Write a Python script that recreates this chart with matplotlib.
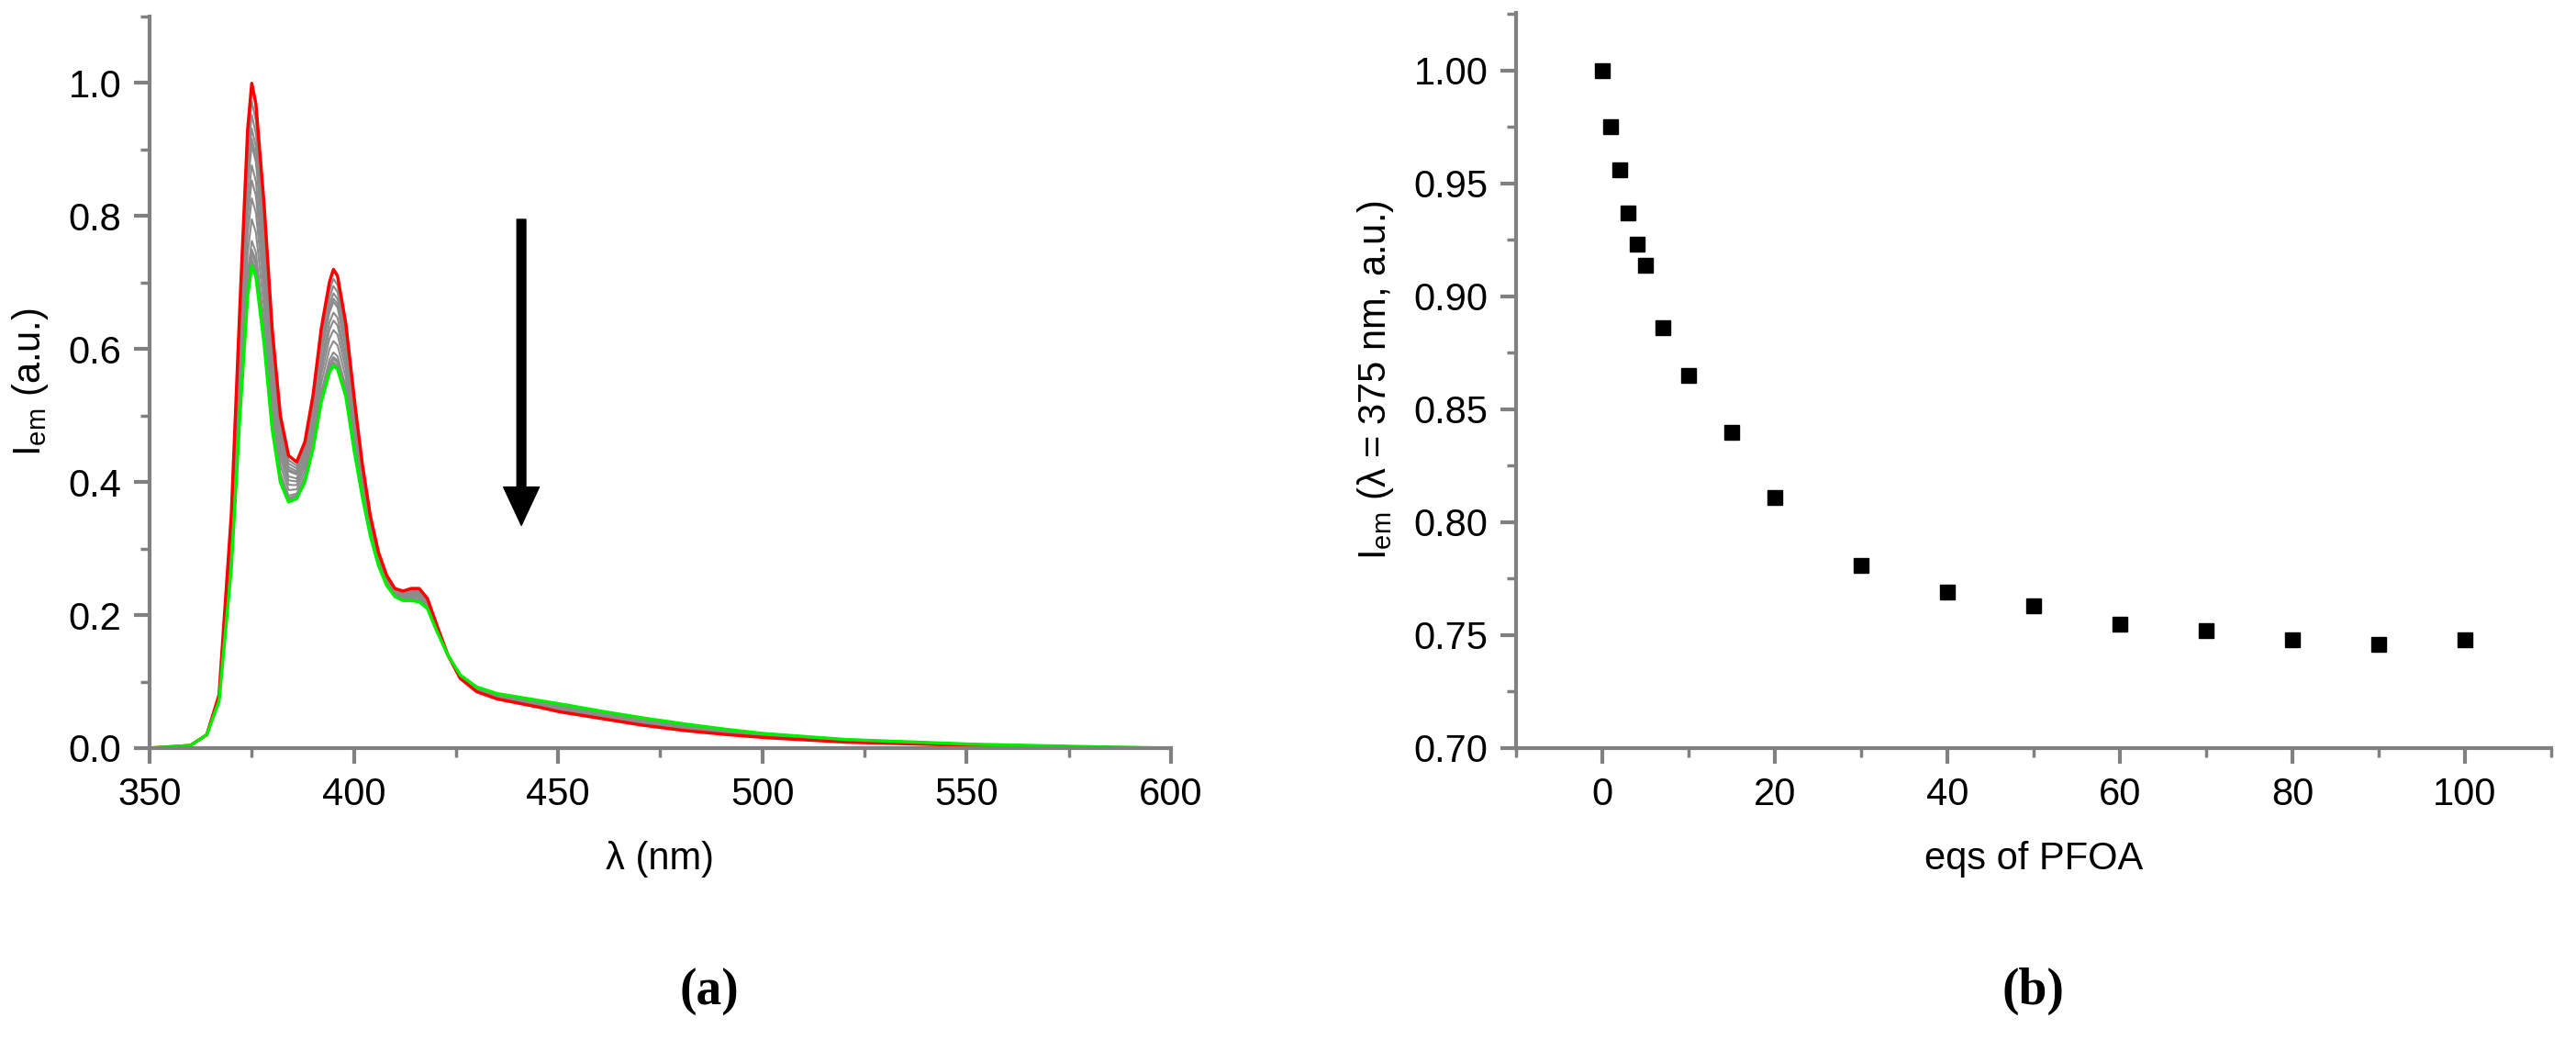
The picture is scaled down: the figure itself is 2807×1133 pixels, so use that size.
import numpy as np
import matplotlib
matplotlib.use("Agg")
import matplotlib.pyplot as plt
from matplotlib.ticker import MultipleLocator, FormatStrFormatter

# Spectra (panel a)
wl = [350, 360, 364, 367, 370, 372, 374, 375, 376, 378, 380, 382, 384, 386, 388, 390, 392, 394, 395, 396, 398, 400, 402, 404, 406, 408, 410, 412, 414, 416, 418, 420, 423, 426, 430, 435, 440, 445, 450, 460, 470, 480, 490, 500, 520, 550, 580, 600]
red = [0.0, 0.004, 0.02, 0.08, 0.35, 0.65, 0.93, 1.0, 0.97, 0.82, 0.63, 0.5, 0.44, 0.43, 0.46, 0.53, 0.63, 0.7, 0.72, 0.71, 0.64, 0.53, 0.43, 0.35, 0.295, 0.26, 0.24, 0.236, 0.24, 0.24, 0.225, 0.19, 0.14, 0.105, 0.085, 0.074, 0.068, 0.062, 0.055, 0.045, 0.035, 0.027, 0.021, 0.016, 0.009, 0.004, 0.001, 0.0]
green = [0.0, 0.004, 0.02, 0.07, 0.27, 0.49, 0.68, 0.725, 0.71, 0.61, 0.48, 0.4, 0.37, 0.375, 0.4, 0.45, 0.52, 0.565, 0.575, 0.57, 0.53, 0.45, 0.38, 0.32, 0.275, 0.245, 0.228, 0.222, 0.222, 0.22, 0.21, 0.18, 0.14, 0.11, 0.092, 0.082, 0.077, 0.072, 0.067, 0.056, 0.046, 0.037, 0.029, 0.022, 0.013, 0.006, 0.002, 0.0]

# Titration (panel b)
eqs = [0, 1, 2, 3, 4, 5, 7, 10, 15, 20, 30, 40, 50, 60, 70, 80, 90, 100]
i375 = [1.000, 0.975, 0.956, 0.937, 0.923, 0.914, 0.886, 0.865, 0.840, 0.811, 0.781, 0.769, 0.763, 0.755, 0.752, 0.748, 0.746, 0.748]

W, H = 2807, 1133
fig = plt.figure(figsize=(W/100, H/100), dpi=100)
plt.rcParams['font.family'] = ['Liberation Sans', 'DejaVu Sans']
FS = 30
spc = '#808080'

def style(ax):
    for s in ['top', 'right']:
        ax.spines[s].set_visible(False)
    for s in ['left', 'bottom']:
        ax.spines[s].set_color(spc)
        ax.spines[s].set_linewidth(3)
    ax.tick_params(which='major', direction='out', length=12, width=3, color=spc, labelsize=FS, pad=10)
    ax.tick_params(which='minor', direction='out', length=7, width=2.5, color=spc)

ax1 = fig.add_axes([163/W, 1-815/H, (1276-163)/W, (815-18)/H])
wl_a = np.array(wl); r = np.array(red); g = np.array(green)
fine = np.linspace(350, 600, 2000)
rf = np.interp(fine, wl_a, r); gf = np.interp(fine, wl_a, g)
i_arr = np.array(i375)
for v in i_arr[1:-1]:
    t = (1 - v) / (1 - i_arr.min())
    ax1.plot(fine, rf + (gf - rf) * t, color='#8c8c8c', lw=1.5)
ax1.plot(fine, rf, color='#ff0000', lw=2.5)
ax1.plot(fine, gf, color='#00ee00', lw=2.5)
ax1.set_xlim(350, 600); ax1.set_ylim(0, 1.1)
ax1.xaxis.set_major_locator(MultipleLocator(50)); ax1.xaxis.set_minor_locator(MultipleLocator(25))
ax1.yaxis.set_minor_locator(MultipleLocator(0.1))
ax1.set_yticks([0, 0.2, 0.4, 0.6, 0.8, 1.0])
ax1.set_yticklabels(['0.0', '0.2', '0.4', '0.6', '0.8', '1.0'])
style(ax1)
ax1.set_xlabel('λ (nm)', fontsize=FS, labelpad=22)
ax1.set_ylabel('I$_{\\mathregular{em}}$ (a.u.)', fontsize=FS, labelpad=14)
ax1.annotate('', xy=(441, 0.335), xytext=(441, 0.795),
             arrowprops=dict(facecolor='black', edgecolor='black', width=7, headwidth=28, headlength=30, shrink=0))

ax2 = fig.add_axes([1652/W, 1-815/H, (2780-1652)/W, (815-14)/H])
ax2.plot(eqs, i375, 's', color='black', ms=12, ls='none')
ax2.set_xlim(-10, 110)
ax2.set_ylim(0.70, 1.0256)
ax2.set_xticks([0, 20, 40, 60, 80, 100])
ax2.xaxis.set_minor_locator(MultipleLocator(10))
ax2.yaxis.set_major_locator(MultipleLocator(0.05)); ax2.yaxis.set_minor_locator(MultipleLocator(0.025))
ax2.yaxis.set_major_formatter(FormatStrFormatter('%.2f'))
style(ax2)
ax2.set_xlabel('eqs of PFOA', fontsize=FS, labelpad=22)
ax2.set_ylabel('I$_{\\mathregular{em}}$ (λ = 375 nm, a.u.)', fontsize=FS, labelpad=14)

fig.text(773/W, 1-1080/H, '(a)', fontsize=40, family=['Liberation Serif'], ha='center', va='center', fontweight='bold')
fig.text(2216/W, 1-1080/H, '(b)', fontsize=40, family=['Liberation Serif'], ha='center', va='center', fontweight='bold')
fig.savefig('out.png', dpi=100)
